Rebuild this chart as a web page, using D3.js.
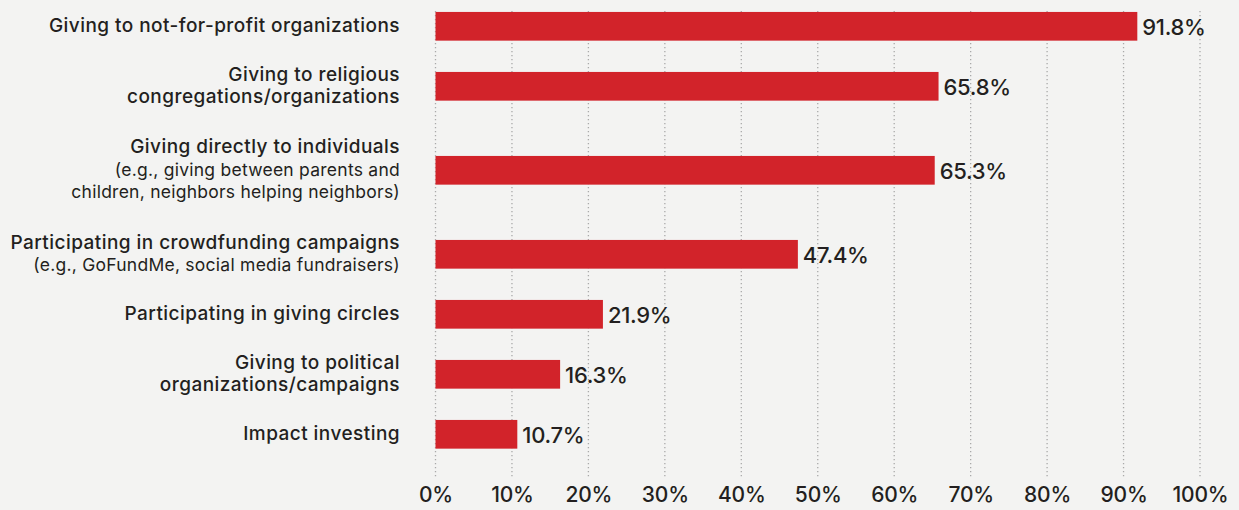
<!DOCTYPE html>
<html>
<head>
<meta charset="utf-8">
<script src="https://cdn.jsdelivr.net/npm/d3@7"></script>
<style>
  html, body { margin: 0; padding: 0; background: #f3f3f2; }
  svg { display: block; }
  text { font-family: Inter, "Open Sans", sans-serif; fill: #231f20; }
</style>
</head>
<body>
<svg id="chart" width="1239" height="510"></svg>
<script>
// Ways of giving (bold title lines) with optional example lines underneath
const titles = [
  ["Giving to not-for-profit organizations"],
  ["Giving to religious", "congregations/organizations"],
  ["Giving directly to individuals"],
  ["Participating in crowdfunding campaigns"],
  ["Participating in giving circles"],
  ["Giving to political", "organizations/campaigns"],
  ["Impact investing"]
];
const notes = [
  [],
  [],
  ["(e.g., giving between parents and", "children, neighbors helping neighbors)"],
  ["(e.g., GoFundMe, social media fundraisers)"],
  [],
  [],
  []
];
const shares = [91.8, 65.8, 65.3, 47.4, 21.9, 16.3, 10.7];
const tickValues = [0, 10, 20, 30, 40, 50, 60, 70, 80, 90, 100];

const svg = d3.select("#chart");

const x = d3.scaleLinear().domain([0, 100]).range([435.5, 1200]);

// Rows are sized by how many label lines they carry
const slotFor = n => ({1: 50, 2: 70, 3: 98})[n];
const rows = titles.map((t, i) => ({
  title: t, note: notes[i], value: shares[i], lines: t.length + notes[i].length
}));
let acc = 1.3;
rows.forEach(r => { r.top = acc; r.center = acc + slotFor(r.lines) / 2; acc += slotFor(r.lines); });

const barH = 28.7;
const lineH = 22.5;

// dotted gridlines
svg.append("g")
  .selectAll("line")
  .data(tickValues)
  .join("line")
  .attr("x1", d => x(d)).attr("x2", d => x(d))
  .attr("y1", 11).attr("y2", 479)
  .attr("stroke", "#a9a9a9")
  .attr("stroke-width", 1.3)
  .attr("stroke-dasharray", "1.3 2.7");

// bars
svg.append("g")
  .selectAll("rect")
  .data(rows)
  .join("rect")
  .attr("x", x(0))
  .attr("y", d => d.center - barH / 2)
  .attr("width", d => x(d.value) - x(0))
  .attr("height", barH)
  .attr("fill", "#d2232a");

// value labels
svg.append("g")
  .selectAll("text")
  .data(rows)
  .join("text")
  .attr("x", d => x(d.value) + 5)
  .attr("y", d => d.center + 8.5)
  .attr("font-size", 22)
  .attr("font-weight", 500)
  .attr("letter-spacing", -0.3)
  .text(d => d.value.toFixed(1) + "%");

// category labels
const lab = svg.append("g")
  .selectAll("text")
  .data(rows)
  .join("text")
  .attr("text-anchor", "end")
  .attr("y", d => d.center + 5.5 - (d.lines - 1) * lineH / 2);

lab.selectAll("tspan")
  .data(d => d.title.map(t => ({t, bold: true})).concat(d.note.map(t => ({t, bold: false}))))
  .join("tspan")
  .attr("x", 400)
  .attr("dy", (d, i) => i === 0 ? 0 : lineH)
  .attr("font-size", d => d.bold ? 19 : 17.5)
  .attr("font-weight", d => d.bold ? 500 : 400)
  .attr("letter-spacing", d => d.bold ? 0.45 : 0.25)
  .text(d => d.t);

// x axis tick labels
const axis = d3.axisBottom(x)
  .tickValues(tickValues)
  .tickFormat(d => d + "%")
  .tickSize(0)
  .tickPadding(0);
const ax = svg.append("g").attr("transform", "translate(0,487)").call(axis);
ax.select(".domain").remove();
ax.selectAll("text")
  .attr("font-family", "Inter, sans-serif")
  .attr("font-size", 21)
  .attr("font-weight", 500)
  .attr("letter-spacing", -0.2)
  .attr("fill", "#231f20")
  .attr("dy", "0.71em");
</script>
</body>
</html>
